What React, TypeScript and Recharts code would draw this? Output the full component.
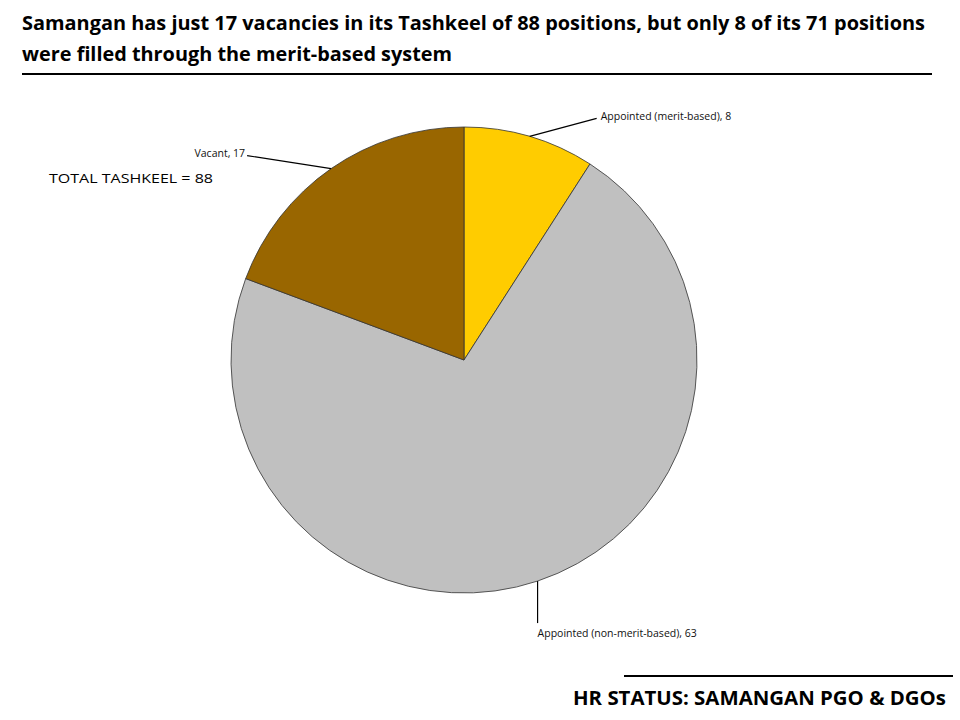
import { PieChart, Pie, Cell } from "recharts";

const categories = ["Appointed (merit-based)", "Appointed (non-merit-based)", "Vacant"];
const positions = [8, 63, 17];
const colors = ["#FFCC00", "#C0C0C0", "#996600"];
// elbow offsets of the leader lines, per slice
const elbows: [number, number][] = [[67, -18], [0, 42], [-84, -13]];

const data = categories.map((name, i) => ({ name, value: positions[i] }));

const FONT = "'Open Sans', 'DejaVu Sans', sans-serif";

function renderLabel(props: any) {
  const { cx, cy, midAngle, outerRadius, index, name, value } = props;
  const rad = (Math.PI / 180) * midAngle;
  const x0 = cx + outerRadius * Math.cos(rad);
  const y0 = cy - outerRadius * Math.sin(rad);
  const [dx, dy] = elbows[index];
  const x1 = x0 + dx;
  const y1 = y0 + dy;
  let tx = x1 + 4;
  let ty = y1 + 2;
  let anchor: "start" | "end" = "start";
  if (dx < 0) { tx = x1 - 2; anchor = "end"; ty = y1 + 1; }
  if (dx === 0) { tx = x1; ty = y1 + 14; }
  return (
    <g>
      <polyline points={`${x0},${y0} ${x1},${y1}`} stroke="#000" strokeWidth={1.2} fill="none" />
      <text x={tx} y={ty} textAnchor={anchor} fontSize={10.5} fill="#111" fontFamily={FONT}>
        {`${name}, ${value}`}
      </text>
    </g>
  );
}

export default function App() {
  return (
    <div style={{ position: "absolute", left: 0, top: 0, width: 960, height: 720, background: "#fff" }}>
      <PieChart
        width={960}
        height={720}
        margin={{ top: 0, right: 0, bottom: 0, left: 0 }}
        style={{ position: "absolute", left: 0, top: 0 }}
      >
        <Pie
          data={data}
          dataKey="value"
          nameKey="name"
          cx={464}
          cy={360}
          outerRadius={233}
          startAngle={90}
          endAngle={-270}
          stroke="#333"
          strokeWidth={0.8}
          label={renderLabel}
          labelLine={false}
          isAnimationActive={false}
        >
          {data.map((d, i) => <Cell key={d.name} fill={colors[i]} />)}
        </Pie>
      </PieChart>
      <svg width={960} height={720} style={{ position: "absolute", left: 0, top: 0, pointerEvents: "none" }}>
        <text x={22} y={30} fontSize={19} fontWeight="bold" fontFamily={FONT} textLength={903} lengthAdjust="spacingAndGlyphs">
          Samangan has just 17 vacancies in its Tashkeel of 88 positions, but only 8 of its 71 positions
        </text>
        <text x={22} y={61} fontSize={19} fontWeight="bold" fontFamily={FONT} textLength={430} lengthAdjust="spacingAndGlyphs">
          were filled through the merit-based system
        </text>
        <line x1={22} y1={74} x2={932} y2={74} stroke="#000" strokeWidth={2} />
        <text x={49} y={183} fontSize={13} fontFamily={FONT} textLength={164} lengthAdjust="spacingAndGlyphs">
          TOTAL TASHKEEL = 88
        </text>
        <line x1={624} y1={676} x2={953} y2={676} stroke="#000" strokeWidth={2} />
        <text x={573} y={705} fontSize={19} fontWeight="bold" fontFamily={FONT} textLength={373} lengthAdjust="spacingAndGlyphs">
          HR STATUS: SAMANGAN PGO &amp; DGOs
        </text>
      </svg>
    </div>
  );
}
